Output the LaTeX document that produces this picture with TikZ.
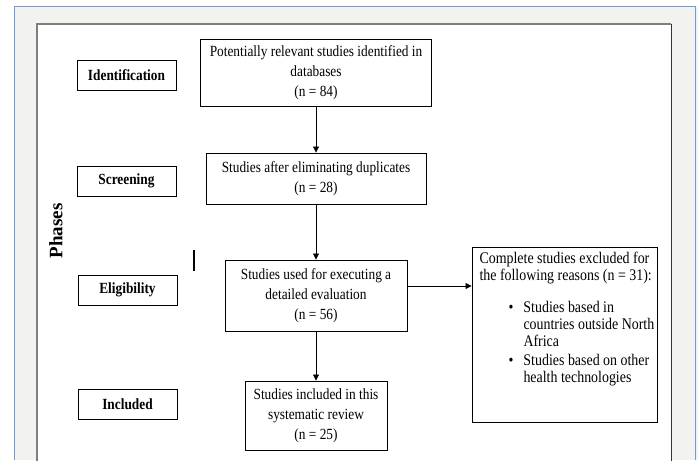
\documentclass[tikz,border=0pt]{standalone}
\usepackage{fontspec}
\setmainfont{Liberation Serif}[FakeStretch=0.86]
\newfontfamily\phasefont{Liberation Serif}
\usetikzlibrary{arrows.meta}
\definecolor{bgpanel}{HTML}{F2F2EE}
\definecolor{bluerule}{HTML}{6A9BDB}
\definecolor{framegray}{HTML}{7F7F7F}
\hbadness=10000 \hfuzz=50pt
\begin{document}
\begin{tikzpicture}[x=1pt,y=-1pt,
 box/.style={draw=black, line width=0.9pt, fill=white, inner sep=0pt, align=center,
   font=\fontsize{15.5}{20}\selectfont},
 phasebox/.style={draw=black, line width=0.9pt, fill=white, minimum width=99pt, minimum height=30pt,
   inner sep=0pt, font=\fontsize{15.5}{16}\selectfont\bfseries},
 arr/.style={-{Triangle[length=6pt,width=6pt]}, line width=0.8pt}]
\useasboundingbox (0,0) rectangle (698,460);
\fill[white] (0,0) rectangle (698,460);
\fill[bgpanel] (14,7) rectangle (698,460);
\draw[bluerule, line width=1pt] (14,460) -- (14,7) -- (695,7) -- (695,460);
\fill[white] (37,24) rectangle (671,470);
\draw[framegray, line width=1.6pt] (37,470) -- (37,24) -- (671,24);
\draw[black!80, line width=1pt] (671,24) -- (671,470);

% phase labels
\node[phasebox] (pid) at (126.5,75.5) {Identification};
\node[phasebox] (psc) at (126.5,181) {Screening};
\node[phasebox] (pel) at (127.5,290) {Eligibility};
\node[phasebox] (pin) at (127.5,404) {Included};
\node[rotate=90, font=\phasefont\fontsize{19}{22}\selectfont\bfseries] (phases) at (56,231) {Phases};
\draw[line width=1.6pt] (194,250) -- (194,271);

% flow boxes
\node[box, minimum width=231pt, minimum height=67pt] (b1) at (316,72.5)
  {Potentially relevant studies identified in\\ databases\\ (n = 84)};
\node[box, minimum width=220pt, minimum height=51pt] (b2) at (316,178.5)
  {Studies after eliminating duplicates\\ (n = 28)};
\node[box, minimum width=182pt, minimum height=71pt] (b3) at (316,295.5)
  {Studies used for executing a\\ detailed evaluation\\ (n = 56)};
\node[box, minimum width=142pt, minimum height=69pt] (b4) at (316,415.5)
  {Studies included in this\\ systematic review\\ (n = 25)};
\node[box, minimum width=185pt, minimum height=175pt, align=left] (b5) at (564.5,334.5)
  {\parbox[c][175pt][t]{170pt}{\raggedright\fontsize{16.2}{17}\selectfont\vspace*{5pt}%
   \mbox{Complete studies excluded for}\\
   \mbox{the following reasons (n = 31):}\\[15pt]
   \mbox{\hspace*{29pt}\makebox[15pt][l]{\textbullet}Studies based in}\\
   \mbox{\hspace*{44pt}countries outside North}\\
   \mbox{\hspace*{44pt}Africa}\\[2pt]
   \mbox{\hspace*{29pt}\makebox[15pt][l]{\textbullet}Studies based on other}\\
   \mbox{\hspace*{44pt}health technologies}}};

% connectors
\coordinate (side) at (440,286);
\draw[arr] (b1) -- (b2);
\draw[arr] (b2) -- (b3);
\draw[arr] (b3) -- (b4);
\draw[arr] (b3.east |- side) -- (b5.west |- side);
\end{tikzpicture}
\end{document}
